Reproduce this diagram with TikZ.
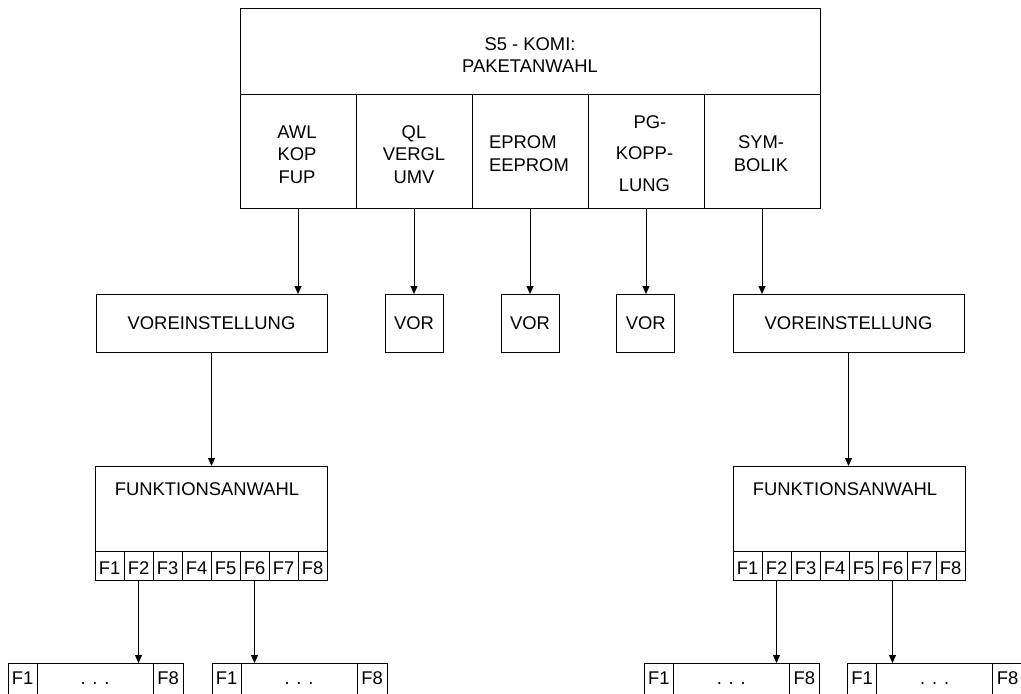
\documentclass[tikz,border=0pt]{standalone}
\usepackage{fontspec}
\setmainfont{Liberation Sans}
\usetikzlibrary{arrows.meta}
\begin{document}
\begin{tikzpicture}[x=1pt,y=-1pt,
  every node/.style={font=\fontsize{18.4}{22.5}\selectfont, inner sep=0pt, outer sep=0pt},
  box/.style={draw=black, line width=1pt},
  arr/.style={draw=black, line width=1pt, -{Triangle[length=8pt,width=7pt]}},
  lbl/.style={align=center},
  fcell/.style={box, minimum width=29pt, minimum height=29pt, text height=18.8pt, text depth=0pt},
  bcell/.style={box, minimum height=40pt, text height=13.2pt, text depth=10pt}]
\useasboundingbox (0,0) rectangle (1021,694);
\clip (0,0) rectangle (1021,694);
\fill[white] (0,0) rectangle (1021,694);

% top box
\node[box, minimum width=580pt, minimum height=86pt] (hdr) at (530,51) {};
\node[lbl] (hdrtxt) at (530,55) {S5 - KOMI:\\PAKETANWAHL};
\foreach \k/\cx in {1/298, 2/414, 3/530, 4/646, 5/762} {
  \node[box, minimum width=116pt, minimum height=114pt] (c\k) at (\cx,151) {};
}
\node[lbl] (t1) at (297,154.5) {AWL\\KOP\\FUP};
\node[lbl] (t2) at (414,154.5) {QL\\VERGL\\UMV};
\node[align=left] (t3) at (529,153.5) {EPROM\\EEPROM};
\node[lbl] (t4) at (644.5,153.5) {\hspace*{11pt}PG-\\[9pt]KOPP-\\[9pt]LUNG};
\node[lbl] (t5) at (761,153.5) {SYM-\\BOLIK};

% second row
\node[box, minimum width=231pt, minimum height=58pt] (v1) at (211.5,323) {VOREINSTELLUNG};
\node[box, minimum width=58pt, minimum height=58pt] (v2) at (414,323) {VOR};
\node[box, minimum width=58pt, minimum height=58pt] (v3) at (530,323) {VOR};
\node[box, minimum width=58pt, minimum height=58pt] (v4) at (645.7,323) {VOR};
\node[box, minimum width=231pt, minimum height=58pt] (v5) at (848.5,323) {VOREINSTELLUNG};

\draw[arr] (c1.south) -- (c1.south |- v1.north);
\draw[arr] (c2.south) -- (v2.north);
\draw[arr] (c3.south) -- (v3.north);
\draw[arr] (c4.south) -- (c4.south |- v4.north);
\draw[arr] (c5.south) -- (c5.south |- v5.north);

% function selection boxes
\node[box, minimum width=232pt, minimum height=85pt] (fl) at (211,508.5) {};
\node (fltxt) at (207,489) {FUNKTIONSANWAHL};
\node[box, minimum width=232pt, minimum height=85pt] (fr) at (849,508.5) {};
\node (frtxt) at (845,489) {FUNKTIONSANWAHL};
\foreach \i in {1,...,8} {
  \node[fcell] (fa\i) at ({95+29*(\i-0.5)},565.5) {F\i};
  \node[fcell] (fb\i) at ({733+29*(\i-0.5)},565.5) {F\i};
}
\draw[arr] (v1.south) -- (v1.south |- fl.north);
\draw[arr] (v5.south) -- (v5.south |- fr.north);

% bottom boxes
\foreach \n/\L in {a/8, b/212, c/644.3, d/847.7} {
  \node[bcell, minimum width=29pt] (first\n) at (\L+14.5,683) {F1};
  \node[bcell, minimum width=116pt] (mid\n) at (\L+87,683) {. . .};
  \node[bcell, minimum width=30pt] (last\n) at (\L+160,683) {F8};
}
\draw[arr] (fa2.south) -- (fa2.south |- mida.north);
\draw[arr] (fa6.south) -- (fa6.south |- midb.north);
\draw[arr] (fb2.south) -- (fb2.south |- midc.north);
\draw[arr] (fb6.south) -- (fb6.south |- midd.north);
\end{tikzpicture}
\end{document}
